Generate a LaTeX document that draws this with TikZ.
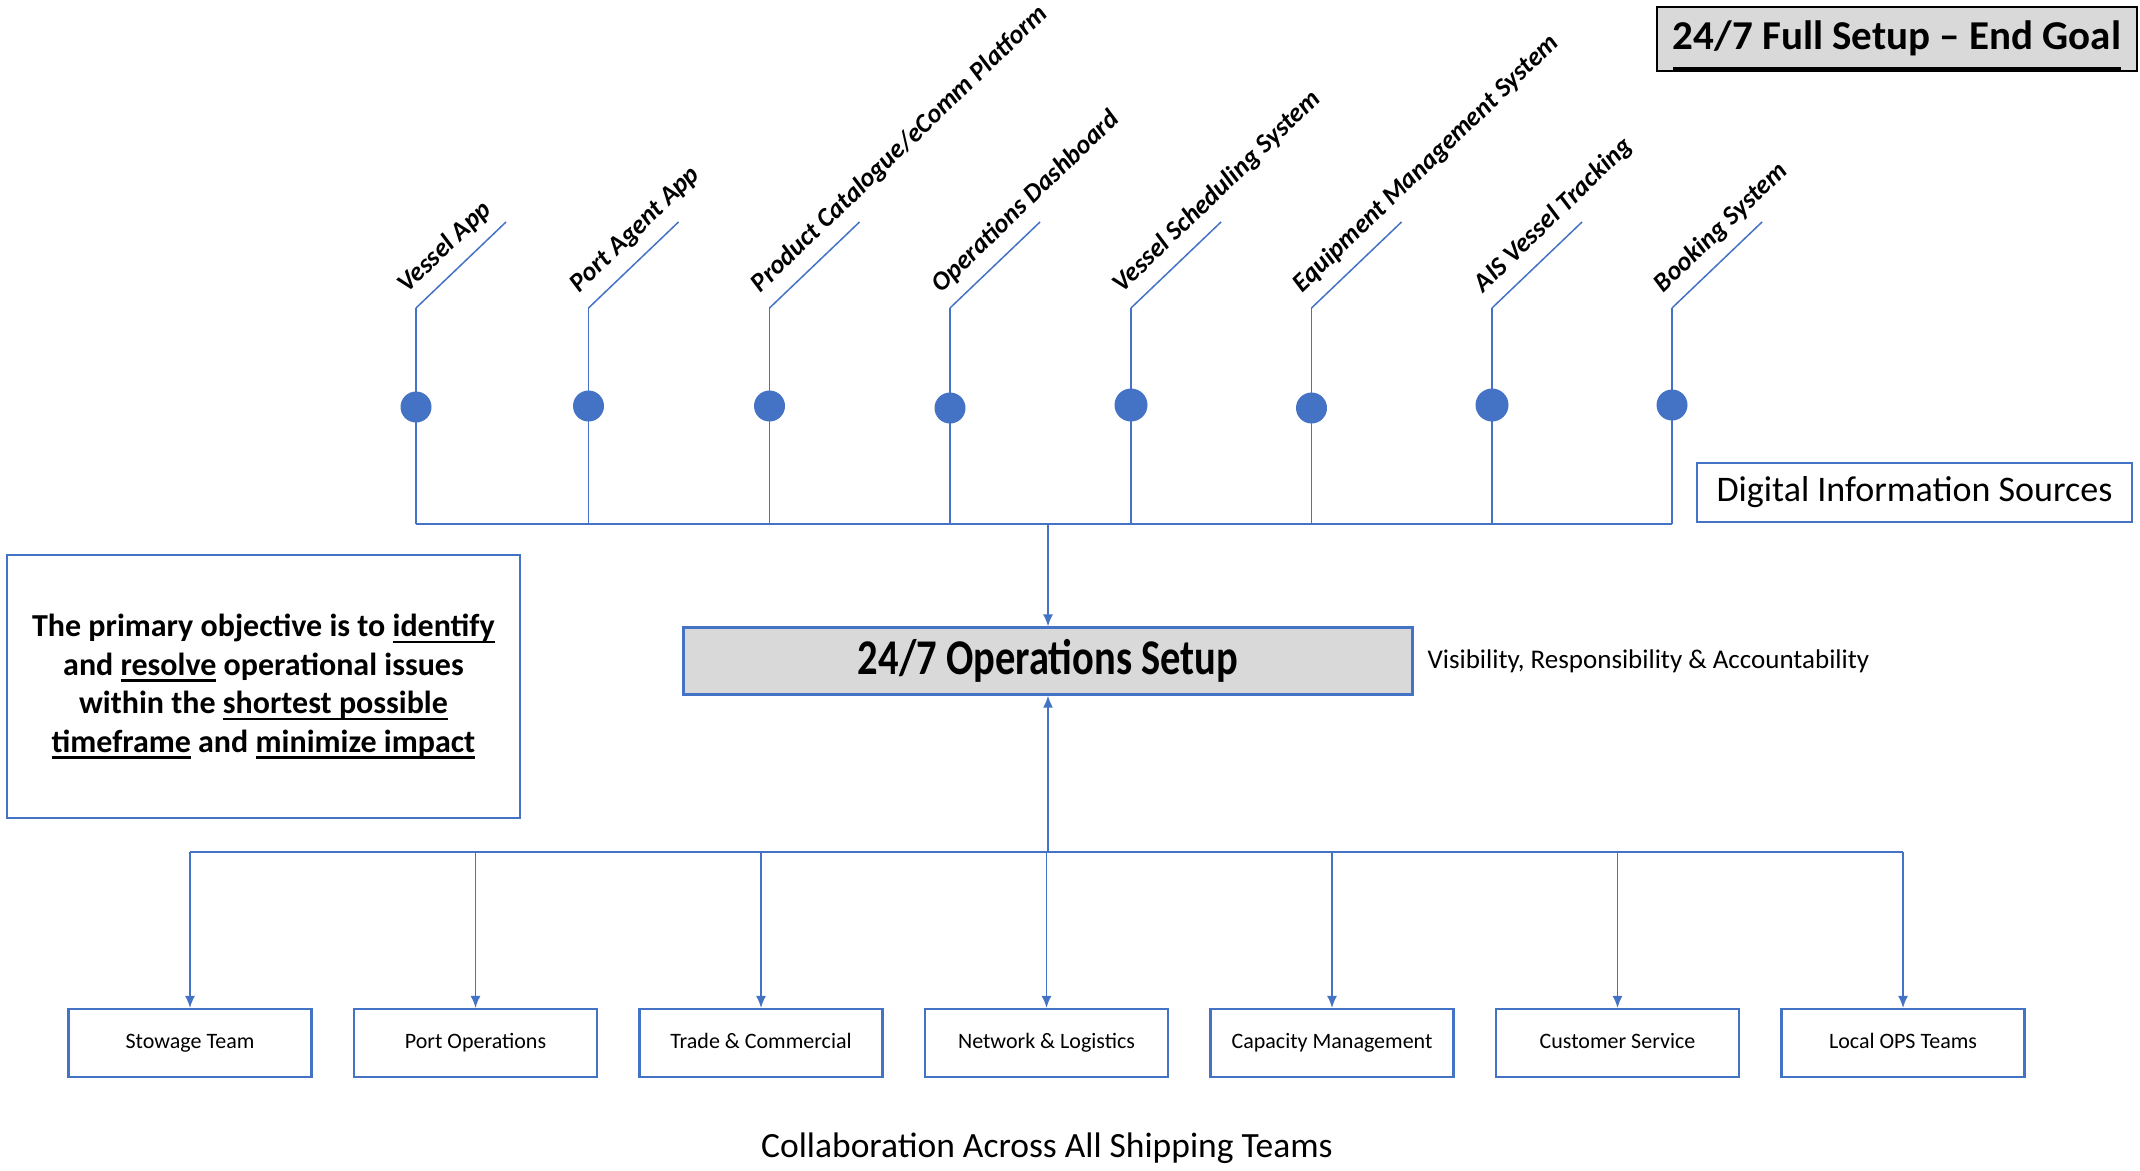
\documentclass[tikz,border=0pt]{standalone}
\usepackage{fontspec}
\setmainfont{Carlito}
\usepackage{graphicx}
\usetikzlibrary{arrows.meta,positioning,calc}
\definecolor{opsblue}{HTML}{4472C4}
\definecolor{opsgray}{HTML}{D9D9D9}
\newcommand{\ulword}[2][0.12em]{\leavevmode\setbox0\hbox{#2}\rlap{\vrule width\wd0 height -#1 depth \dimexpr#1+0.08em\relax}\box0\relax}

\begin{document}
\begin{tikzpicture}[
			x=1pt, y=-1pt,
			>={Latex[length=12pt,width=10pt]},
			link/.style={
				draw=opsblue,
				line width=1.5pt
			},
			dot/.style={
				circle,
				fill=opsblue,
				inner sep=0pt,
				minimum size=31pt
			},
			srclabel/.style={
				rotate=44,
				anchor=south west,
				inner xsep=4pt,
				inner ysep=12pt,
				font=\fontsize{26.5}{31}\selectfont\bfseries\itshape
			},
			team/.style={
				draw=opsblue,
				line width=2.2pt,
				minimum width=243pt,
				minimum height=68pt,
				text height=16pt,
				text depth=5pt,
				font=\fontsize{22}{26}\selectfont
			},
			bluebox/.style={
				draw=opsblue,
				line width=2.2pt,
				align=center
			}
			]
			\useasboundingbox (0,0) rectangle (2140,1170);
			
			\node[draw=black,line width=1.5pt,fill=opsgray,inner sep=2pt,minimum width=480pt,minimum height=64pt,
				text height=36pt,text depth=15pt,
				font=\fontsize{41}{49}\selectfont\bfseries] (title) at (1897,39)
			{\ulword[0.42em]{24/7 Full Setup -- End Goal}};
			
			% sources
			\coordinate (k1) at (416,308);
			\coordinate (k2) at (588.5,308);
			\coordinate (k3) at (769.5,308);
			\coordinate (k4) at (950,308);
			\coordinate (k5) at (1131,308);
			\coordinate (k6) at (1311.5,308);
			\coordinate (k7) at (1492,308);
			\coordinate (k8) at (1672,308);
			
			\node[srclabel] (l1) at (k1) {Vessel App};
			\node[srclabel] (l2) at (k2) {Port Agent App};
			\node[srclabel] (l3) at (k3) {Product Catalogue/eComm Platform};
			\node[srclabel] (l4) at (k4) {Operations Dashboard};
			\node[srclabel] (l5) at (k5) {Vessel Scheduling System};
			\node[srclabel] (l6) at (k6) {Equipment Management System};
			\node[srclabel] (l7) at (k7) {AIS Vessel Tracking};
			\node[srclabel] (l8) at (k8) {Booking System};
			
			\node[bluebox,line width=1.8pt,minimum width=435pt,minimum height=59pt,
				font=\fontsize{36}{43}\selectfont] (info) at (1914.5,492.5)
			{Digital Information Sources};
			
			\node[bluebox,fill=opsgray,minimum width=729pt,minimum height=67pt,
				font=\fontsize{50}{60}\selectfont\bfseries] (ops) at (1048,661)
			{\scalebox{0.81}[1]{24/7 Operations Setup}};
			
			\node[anchor=west,font=\fontsize{27}{32}\selectfont] (vra) at (1424,661)
			{Visibility, Responsibility \& Accountability};
			
			\node[bluebox,minimum width=513pt,minimum height=263pt,
				font=\fontsize{32}{38.5}\selectfont\bfseries] (goal) at (263.5,686.5)
			{The primary objective is to \ulword{identify}\\
				and \ulword{resolve} operational issues\\
				within the \ulword{shortest possible}\\
				\ulword{timeframe} and \ulword{minimize impact}};
			
			\coordinate (hub) at (ops.north |- 0,524);
			\coordinate (split) at (ops.south |- 0,852);
			
			\draw[link] (k1) -- ++(90,-86);
			\draw[link] (k2) -- ++(90,-86);
			\draw[link] (k3) -- ++(90,-86);
			\draw[link] (k4) -- ++(90,-86);
			\draw[link] (k5) -- ++(90,-86);
			\draw[link] (k6) -- ++(90,-86);
			\draw[link] (k7) -- ++(90,-86);
			\draw[link] (k8) -- ++(90,-86);
			
			\draw[link] (k1) -- (k1 |- hub);
			\draw[link] (k2) -- (k2 |- hub);
			\draw[link] (k3) -- (k3 |- hub);
			\draw[link] (k4) -- (k4 |- hub);
			\draw[link] (k5) -- (k5 |- hub);
			\draw[link] (k6) -- (k6 |- hub);
			\draw[link] (k7) -- (k7 |- hub);
			\draw[link] (k8) -- (k8 |- hub);
			\draw[link] (k1 |- hub) -- (k8 |- hub);
			
			\node[dot] (d1) at (k1 |- 0,407) {};
			\node[dot] (d2) at (k2 |- 0,406) {};
			\node[dot] (d3) at (k3 |- 0,406) {};
			\node[dot] (d4) at (k4 |- 0,408) {};
			\node[dot,minimum size=33pt] (d5) at (k5 |- 0,405) {};
			\node[dot] (d6) at (k6 |- 0,408) {};
			\node[dot,minimum size=33pt] (d7) at (k7 |- 0,405) {};
			\node[dot] (d8) at (k8 |- 0,405) {};
			
			\draw[link,->] (hub) -- (ops);
			
			% teams
			\node[team] (stow) at (190,1043) {Stowage Team};
			\node[team,right=40.3pt of stow] (port) {Port Operations};
			\node[team,right=40.3pt of port] (trade) {Trade \& Commercial};
			\node[team,right=40.3pt of trade] (net) {Network \& Logistics};
			\node[team,right=40.3pt of net] (cap) {Capacity Management};
			\node[team,right=40.3pt of cap] (cust) {Customer Service};
			\node[team,right=40.3pt of cust] (local) {Local OPS Teams};
			
			\draw[link,line width=2pt,->] (split) -- (ops);
			\draw[link] (split -| stow) -- (split -| local);
			\draw[link,->] (split -| stow) -- (stow);
			\draw[link,->] (split -| port) -- (port);
			\draw[link,->] (split -| trade) -- (trade);
			\draw[link,->] (split -| net) -- (net);
			\draw[link,->] (split -| cap) -- (cap);
			\draw[link,->] (split -| cust) -- (cust);
			\draw[link,->] (split -| local) -- (local);
			
			\node[font=\fontsize{35.5}{42}\selectfont] (collab) at (1047,1148)
			{Collaboration Across All Shipping Teams};
			
		\end{tikzpicture}
\end{document}
